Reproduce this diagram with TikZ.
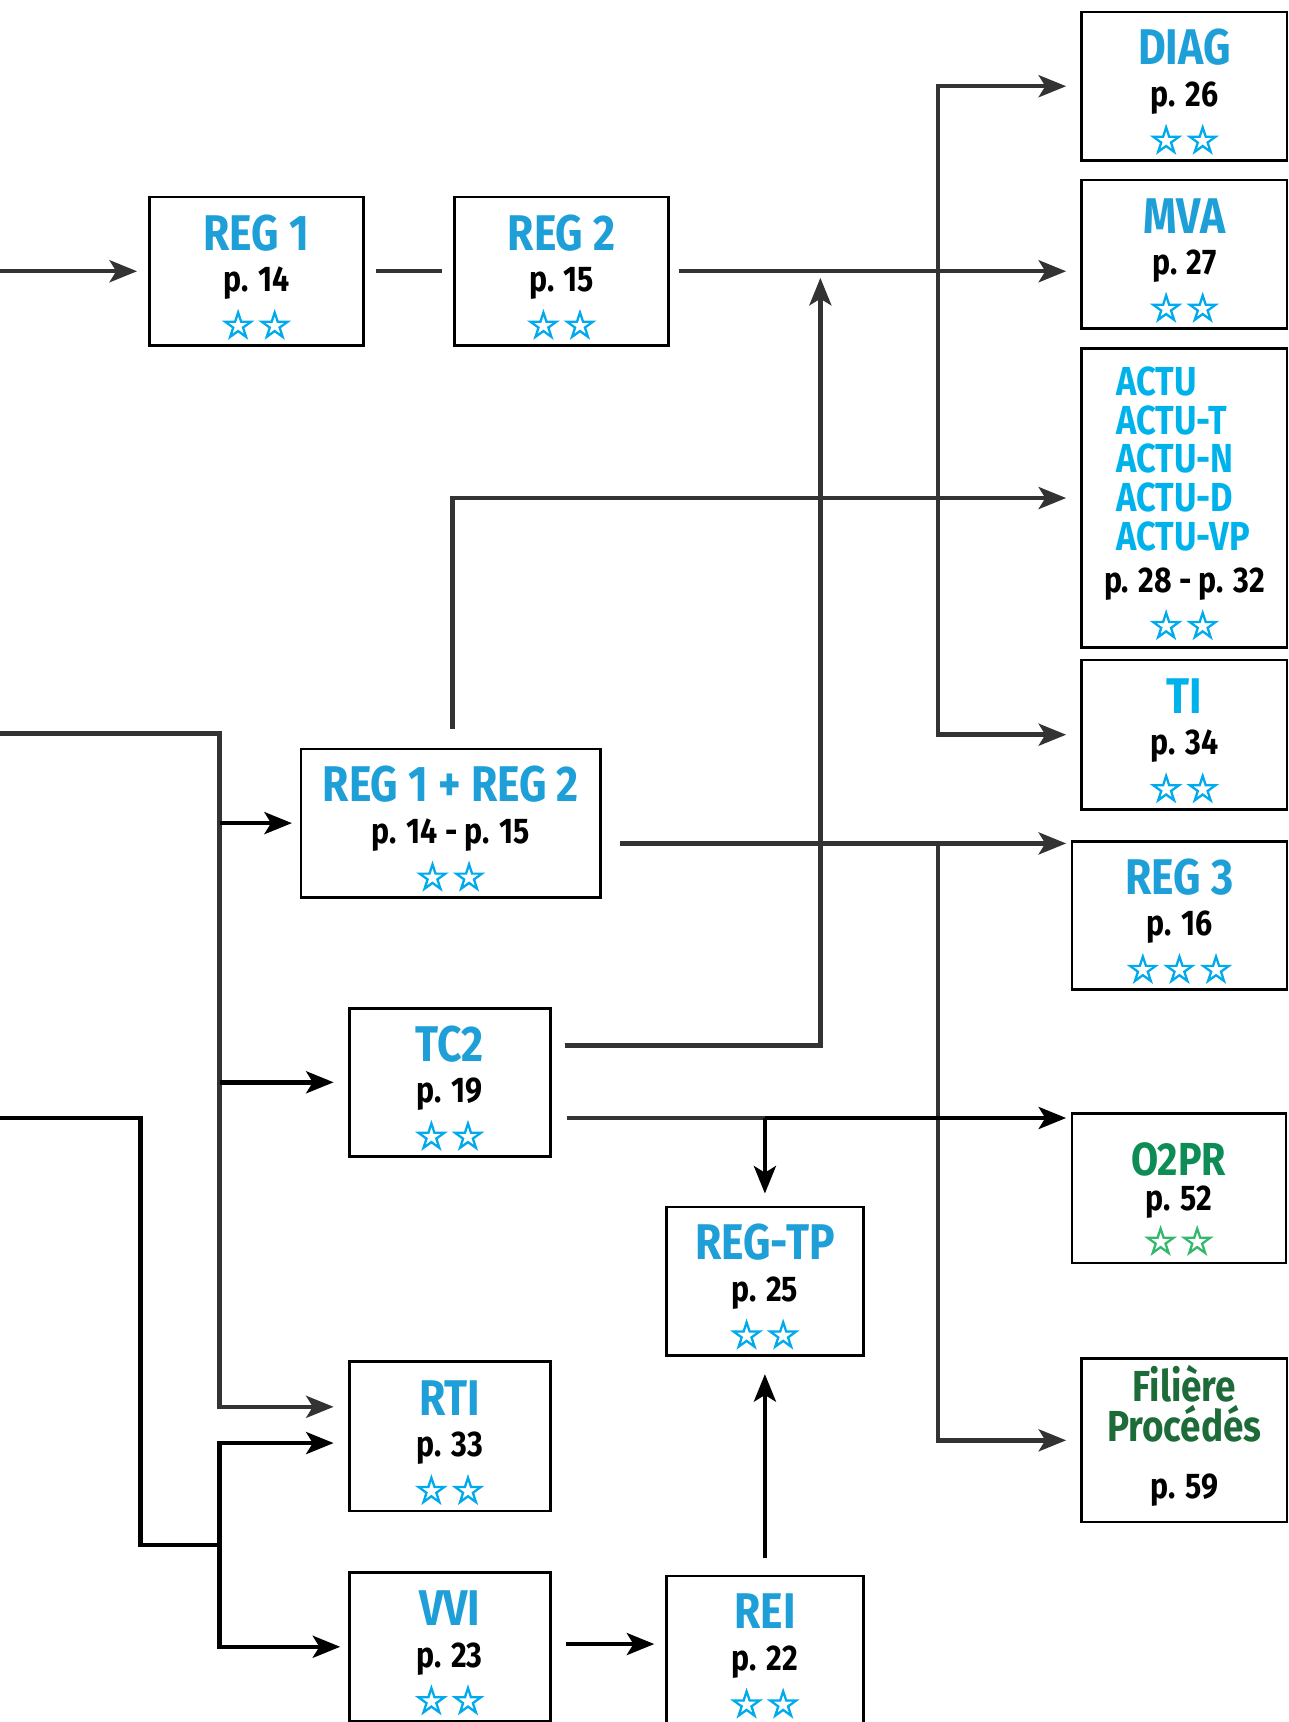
\documentclass[tikz,border=0pt]{standalone}
\usepackage{fontspec}
\setmainfont{Fira Sans}[FakeStretch=0.85]
\newfontfamily\starfam{DejaVu Sans}
\usepackage{xcolor}
\usetikzlibrary{arrows.meta, positioning, calc}

\definecolor{regblue}{RGB}{30,159,216}
\definecolor{actucyan}{RGB}{0,178,236}
\definecolor{starcyan}{RGB}{0,170,236}
\definecolor{otgreen}{RGB}{14,140,86}
\definecolor{stargreen}{RGB}{52,184,110}
\definecolor{filgreen}{RGB}{29,107,56}
\definecolor{linegray}{RGB}{51,51,51}

\newcommand{\starsii}{☆\kern1.5pt☆}
\newcommand{\starsiii}{☆\kern1.5pt☆\kern1.5pt☆}
\newcommand{\starrow}[2][starcyan]{{\starfam\fontsize{19.5}{21.5}\selectfont\color{#1}%
    \special{pdf:literal direct 2 Tr 0.65 w}#2\special{pdf:literal direct 0 Tr}}}
\newcommand{\card}[4][regblue]{\rule{0pt}{23.7pt}{\fontsize{26}{21.5}\selectfont\color{#1}#2}\\#3\\[2.6pt]\starrow{#4}}
\newcommand{\actu}[1]{\makebox[2.49cm][l]{\color{actucyan}#1}}

\begin{document}
\begin{tikzpicture}[
    x=0.02cm, y=-0.02cm,
    >={Stealth[length=0.5cm, width=0.4cm, inset=0.12cm]},
    card/.style={draw, line width=1.4pt, align=center, inner sep=0pt,
        font=\bfseries\fontsize{18.5}{21.5}\selectfont, minimum height=2.7cm},
    gline/.style={draw=linegray, line width=2.3pt},
    bline/.style={draw=black, line width=2.3pt}
]
    \useasboundingbox (0,0) rectangle (1173,1568);

    % Top row
    \node[card, minimum width=3.9cm] (reg1) at (233.5,247) {\card{REG 1}{p. 14}{\starsii}};
    \node[card, minimum width=3.9cm] (reg2) at (511.5,247) {\card{REG 2}{p. 15}{\starsii}};

    % Right column
    \node[card, minimum width=3.74cm] (diag) at (1078.5,78.5) {\card{DIAG}{p. 26}{\starsii}};
    \node[card, minimum width=3.74cm] (mva) at (1078.5,231.5) {\card{MVA}{p. 27}{\starsii}};
    \node[card, minimum width=3.74cm, minimum height=5.44cm,
        font=\bfseries\fontsize{21}{20.2}\selectfont] (actu) at (1078.5,453.5) {%
        \rule{0pt}{19.4pt}\actu{ACTU}\\\actu{ACTU-T}\\\actu{ACTU-N}\\\actu{ACTU-D}\\\actu{ACTU-VP}\\[1.3pt]%
        {\fontsize{18.5}{20.2}\selectfont p. 28 - p. 32}\\[3.6pt]\starrow{\starsii}};
    \node[card, minimum width=3.74cm, minimum height=2.72cm] (ti) at (1078.5,669) {\card[actucyan]{TI}{p. 34}{\starsii}};
    \node[card, minimum width=3.92cm] (reg3) at (1074,833.5) {\card{REG 3}{p. 16}{\starsiii}};
    \node[card, minimum width=3.9cm, minimum height=2.72cm,
        font=\bfseries\fontsize{18.5}{18}\selectfont] (otpr) at (1073.5,1082) {%
        \rule{0pt}{27.8pt}{\fontsize{24}{18}\selectfont\color{otgreen}O2PR}\\p. 52\\[3.3pt]\starrow[stargreen]{\starsii}};
    \node[card, minimum width=3.74cm, minimum height=2.98cm, text=filgreen,
        font=\bfseries\fontsize{22.5}{20.6}\selectfont] (fil) at (1078.5,1311.5) {%
        Filière\\Procédés\\[8.9pt]{\fontsize{18.5}{20.6}\selectfont\color{black}p. 59\rule[-9pt]{0pt}{9pt}}};

    % Middle
    \node[card, minimum width=5.46cm] (rr) at (410.5,749.5) {\card{REG 1 + REG 2}{p. 14 - p. 15}{\starsii}};
    \node[card, minimum width=3.66cm] (tc2) at (409.5,985.5) {\card{TC2}{p. 19}{\starsii}};
    \node[card, minimum width=3.58cm] (regtp) at (696.5,1166.5) {\card{REG-TP}{p. 25}{\starsii}};
    \node[card, minimum width=3.66cm, minimum height=2.72cm] (rti) at (409.5,1308) {\card{RTI}{p. 33}{\starsii}};
    \node[card, minimum width=3.66cm] (vvi) at (409.5,1499.5) {\card{VVI}{p. 23}{\starsii}};
    \node[card, minimum width=3.58cm] (rei) at (696.5,1502.5) {\card{REI}{p. 22}{\starsii}};

    % REG 1 -> REG 2 -> right column
    \coordinate (in1) at (0,247);
    \draw[gline, ->, shorten >=0.2cm] (in1) -- (reg1);
    \draw[gline, shorten <=0.2cm, shorten >=0.2cm] (reg1) -- (reg2);
    \draw[gline, ->, shorten <=0.16cm, shorten >=0.26cm] (reg2.east) -- (reg2.east -| mva.west);
    \coordinate (sp1) at (854,247);
    \draw[gline, ->, shorten >=0.26cm] (sp1) |- (diag);
    \draw[gline, ->, shorten >=0.26cm] (sp1) |- (ti);

    % TC2 up to REG 2 line
    \coordinate (sp2) at (747,247);
    \coordinate (tcup) at ($(tc2.east)+(12,-33.5)$);
    \draw[gline, ->, shorten >=0.12cm] (tcup) -| (sp2);

    % REG 1 + REG 2 outputs
    \coordinate (rrup) at ($(rr.north)+(1.5,-17)$);
    \draw[gline, ->, shorten >=0.26cm] (rrup) |- (actu);
    \coordinate (rrout) at ($(rr.east)+(16,18.5)$);
    \draw[gline, ->, shorten >=0.08cm] (rrout) -- (rrout -| reg3.west);
    \coordinate (sp3) at (rrout -| sp1);
    \draw[gline, ->, shorten >=0.26cm] (sp3) |- (fil);

    % TC2 low output
    \coordinate (tcout) at ($(tc2.east)+(14,32.5)$);
    \coordinate (sp4) at (tcout -| regtp.north);
    \draw[gline] (tcout) -- (sp4);
    \draw[bline, ->, shorten >=0.08cm] (sp4) -- (sp4 -| otpr.west);
    \draw[bline, ->, shorten >=0.22cm] (sp4) -- (regtp);
    \draw[bline, ->, shorten <=0.3cm, shorten >=0.32cm] (rei) -- (regtp);
    \coordinate (vvout) at ($(vvi.east)+(13,-2.5)$);
    \draw[bline, ->, shorten >=0.2cm] (vvout) -- (vvout -| rei.west);

    % Left buses
    \coordinate (inA) at (0,668);
    \coordinate (busA) at (200,668);
    \draw[gline, ->, shorten >=0.26cm] (inA) -- (busA) |- ($(rti.west)+(0,-27)$);
    \draw[bline, ->, shorten >=0.14cm] (busA |- rr.west) -- (rr.west);
    \draw[bline, ->, shorten >=0.26cm] (busA |- tc2.west) -- (tc2.west);
    \coordinate (inB) at (0,1018);
    \coordinate (busB) at (128,1407);
    \coordinate (forkB) at (200,1407);
    \draw[bline] (inB) -| (busB) -- (forkB);
    \draw[bline, ->, shorten >=0.26cm] (forkB) |- ($(rti.west)+(0,6)$);
    \draw[bline, ->, shorten >=0.14cm] (forkB) |- (vvi.west);
\end{tikzpicture}
\end{document}
